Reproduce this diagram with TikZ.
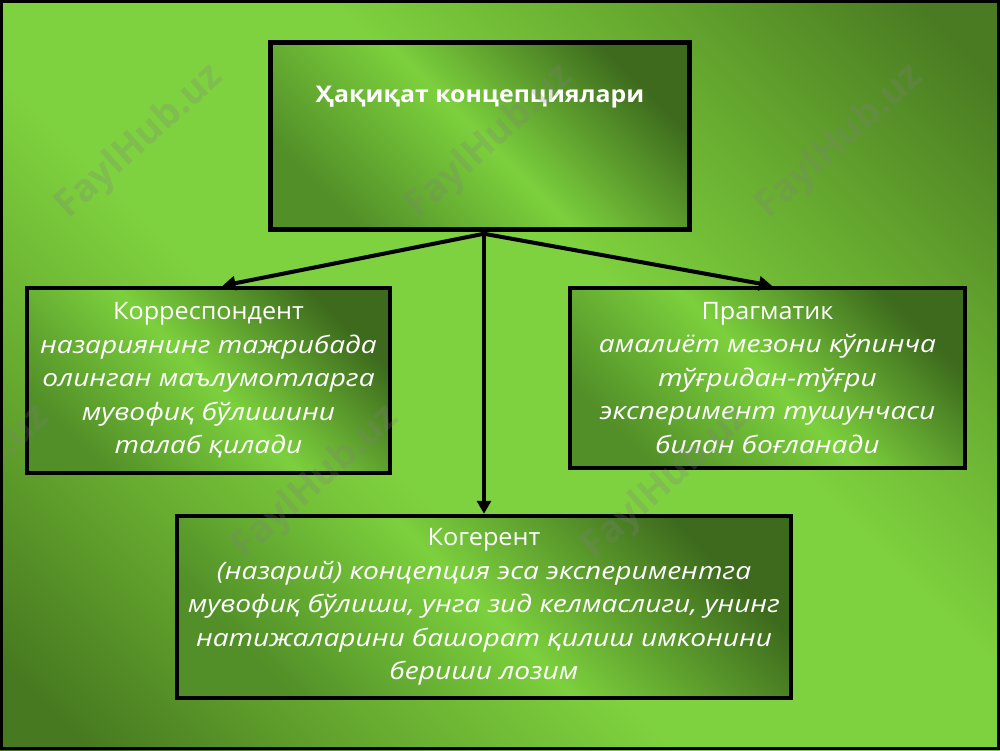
\documentclass[tikz,border=0pt]{standalone}
\usepackage{fontspec}
\setmainfont{Open Sans}
\newfontfamily\hfont{Open Sans}[FakeStretch=1.05]
\newfontfamily\ifont{Open Sans}[FakeStretch=1.17]
\newfontfamily\tfont{Open Sans}[FakeStretch=1.08]
\usetikzlibrary{arrows.meta}
\definecolor{gbright}{HTML}{7CD03D}
\definecolor{gmid}{HTML}{528F28}
\definecolor{gdark}{HTML}{3D6A1D}
\definecolor{bgA}{HTML}{7FD23F}
\definecolor{bgM}{HTML}{66A92F}
\definecolor{bgB}{HTML}{477920}
\definecolor{bgC}{HTML}{4A7B22}
\pgfdeclareverticalshading{bgshade}{100bp}{color(0bp)=(bgC); color(18bp)=(bgC); color(30bp)=(bgM); color(42bp)=(bgA); color(58bp)=(bgA); color(70bp)=(bgM); color(82bp)=(bgB); color(100bp)=(bgB)}
\tikzset{
  box/.style={draw=black, line width=4.5pt, left color=gmid, right color=gdark, middle color=gbright, shading angle=135, align=center, text=white, inner sep=0pt},
  bodytext/.style={font=\hfont\fontsize{24}{33.5}\selectfont},
  conn/.style={draw=black, line width=4pt, -{Triangle[length=13pt,width=14pt]}},
  wm/.style={text=gray, opacity=0.25, font=\bfseries\fontsize{38}{38}\selectfont, rotate=42}
}
\begin{document}
\begin{tikzpicture}[x=1pt,y=-1pt]
\useasboundingbox (0,0) rectangle (1000,750);
\shade[shading=bgshade, shading angle=135] (0,0) rectangle (1000,750);
% boxes
\node[box, minimum width=419pt, minimum height=187pt] (top) at (480,136) {};
\node[text=white, font=\tfont\bfseries\fontsize{23}{28}\selectfont] (title) at (480,97) {Ҳақиқат концепциялари};
\node[box, bodytext, minimum width=363pt, minimum height=185pt] (corr) at (208.5,380.5)
  {Корреспондент\\ \ifont\itshape назариянинг тажрибада\\ \ifont\itshape олинган маълумотларга\\ \ifont\itshape мувофиқ бўлишини\\ \ifont\itshape талаб қилади};
\node[box, bodytext, minimum width=395pt, minimum height=180pt] (prag) at (767.5,378)
  {Прагматик\\ \ifont\itshape амалиёт мезони кўпинча\\ \ifont\itshape тўғридан-тўғри\\ \ifont\itshape эксперимент тушунчаси\\ \ifont\itshape билан боғланади};
\node[box, bodytext, minimum width=614pt, minimum height=182pt] (coh) at (484,607)
  {Когерент\\ \ifont\itshape (назарий) концепция эса экспериментга\\ \ifont\itshape мувофиқ бўлиши, унга зид келмаслиги, унинг\\ \ifont\itshape натижаларини башорат қилиш имконини\\ \ifont\itshape бериши лозим};
% connectors
\coordinate (hub) at ([xshift=4pt,yshift=-2pt]top.south);
\draw[conn] (hub) -- ([xshift=14pt]corr.north);
\draw[conn] (hub) -- ([xshift=4.5pt]prag.north);
\draw[conn] (hub) -- (coh.north);
% watermarks
\foreach \x/\y [count=\i] in {140/142, 490/142, 840/142, -34/483, 316/483, 666/483}
  \node[wm] (wm\i) at (\x,\y) {FaylHub.uz};
% frame
\draw[line width=3pt] (1.5,1.5) rectangle (998.5,748.5);
\end{tikzpicture}
\end{document}
